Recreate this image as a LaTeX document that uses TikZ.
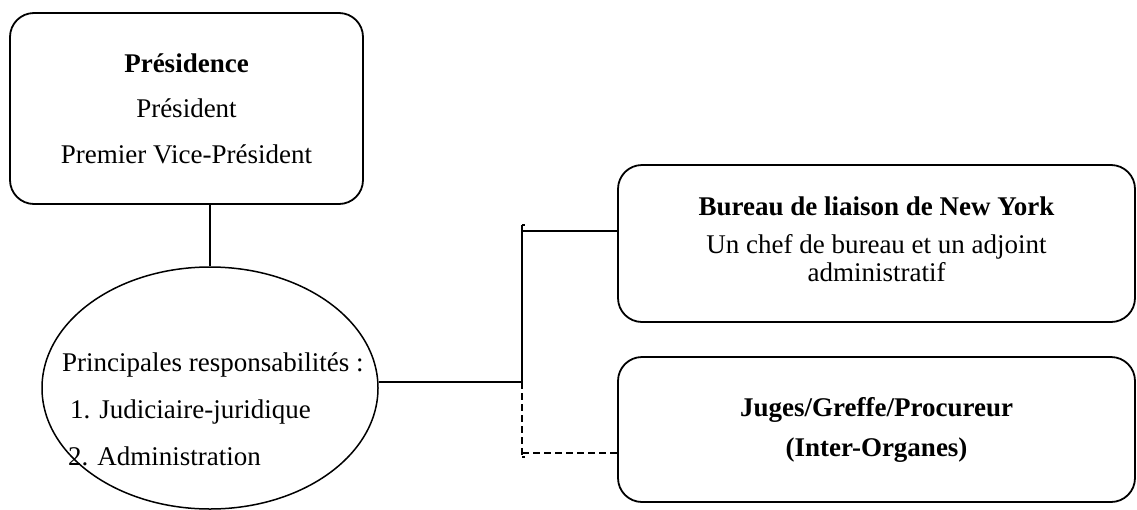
\documentclass[tikz,border=0pt]{standalone}
\usepackage{fontspec}
\setmainfont{Liberation Serif}
\usetikzlibrary{shapes.geometric}
\begin{document}
\begin{tikzpicture}[x=1pt,y=-1pt,
  txt/.style={font=\fontsize{27}{28}\selectfont},
  box/.style={txt,draw,line width=1.8pt,rounded corners=24pt,align=center,inner sep=0pt},
  oval/.style={draw,ellipse,line width=1.5pt,inner sep=0pt},
  conn/.style={line width=1.8pt},
  dconn/.style={line width=1.8pt,dash pattern=on 7pt off 4pt}]
\useasboundingbox (0,0) rectangle (1137,509);
\fill[white] (0,0) rectangle (1137,509);

\node[box,minimum width=353pt,minimum height=191pt] (pres) at (186.5,108.5)
  {\textbf{Présidence}\\[17pt]Président\\[18pt]Premier Vice-Président};

\node[oval,minimum width=336pt,minimum height=242pt] (ell) at (210,388) {};
\node[txt,align=left,anchor=north west,inner sep=0pt] (ellT) at (62,353)
  {Principales responsabilités :\\[19pt]\hspace*{8pt}1. Judiciaire-juridique\\[19pt]\hspace*{6pt}2. Administration};

\node[box,minimum width=517pt,minimum height=157pt] (b1) at (876.5,243.5)
  {\textbf{Bureau de liaison de New York}\\[10pt]Un chef de bureau et un adjoint\\administratif\rule[-8pt]{0pt}{8pt}};

\node[box,minimum width=517pt,minimum height=145pt] (b2) at (876.5,429.5)
  {\textbf{Juges/Greffe/Procureur}\\[12pt]\textbf{(Inter-Organes)}};

\coordinate (jt) at (522,225);
\coordinate (j1) at (522,231);
\coordinate (ja) at (522,382);
\coordinate (j2) at (522,453);
\coordinate (jb) at (522,457);

\draw[conn] (ell.north |- pres.south) -- (ell.north);
\draw[conn] (ja -| ell.east) -- (ja);
\draw[conn] (jt) -- (ja);
\draw[conn] (jt) -- ++(3,0);
\draw[dconn] (ja) -- (jb);
\draw[conn] (jb) -- ++(3,0);
\draw[conn] (j1) -- (j1 -| b1.west);
\draw[dconn] (j2) -- (j2 -| b2.west);
\end{tikzpicture}
\end{document}
